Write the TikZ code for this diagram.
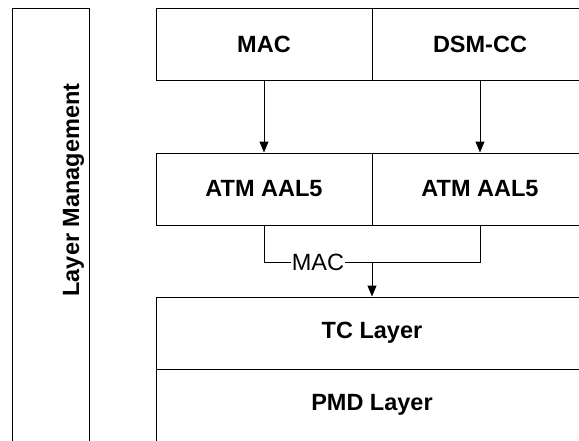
\documentclass[tikz,border=0pt]{standalone}
\usepackage{fontspec}
\setmainfont{Liberation Sans}
\usetikzlibrary{arrows.meta}

\tikzset{
	layer/.style={draw, line width=1pt, minimum width=216pt, minimum height=72pt, inner sep=0pt, font=\bfseries\fontsize{23.5}{28}\selectfont},
	widelayer/.style={layer, minimum width=432pt},
	flow/.style={-{Triangle[width=9pt,length=11pt]}, line width=1pt},
}

\begin{document}
\begin{tikzpicture}[x=1pt,y=-1pt]
	\useasboundingbox (0,0) rectangle (579,440);
	\clip (0,0) rectangle (579,440);

	% management column
	\node[draw, line width=1pt, minimum width=77pt, minimum height=440pt, inner sep=0pt, anchor=north west] (mgmt) at (12,8) {};
	\node[rotate=90, anchor=base, font=\bfseries\fontsize{23.5}{28}\selectfont] (mgmtlbl) at (79,190) {Layer Management};

	% protocol stack
	\node[layer] (mac) at (264,44) {MAC};
	\node[layer] (dsm) at (480,44) {DSM-CC};
	\node[layer] (atma) at (264,189) {ATM AAL5};
	\node[layer] (atmb) at (480,189) {ATM AAL5};
	\node[widelayer] (tc) at (372,333) {TC Layer};
	\node[widelayer] (pmd) at (372,405) {PMD Layer};

	\draw[flow] (mac) -- (atma);
	\draw[flow] (dsm) -- (atmb);

	\node[inner sep=1pt, font=\fontsize{23.5}{28}\selectfont] (maclbl) at (318,262) {MAC};
	\draw[line width=1pt] (atma.south) |- (maclbl.west);
	\draw[line width=1pt] (maclbl.east) -| (atmb.south);
	\coordinate (join) at (tc.north |- maclbl);
	\draw[flow] (join) -- (tc);
\end{tikzpicture}
\end{document}
